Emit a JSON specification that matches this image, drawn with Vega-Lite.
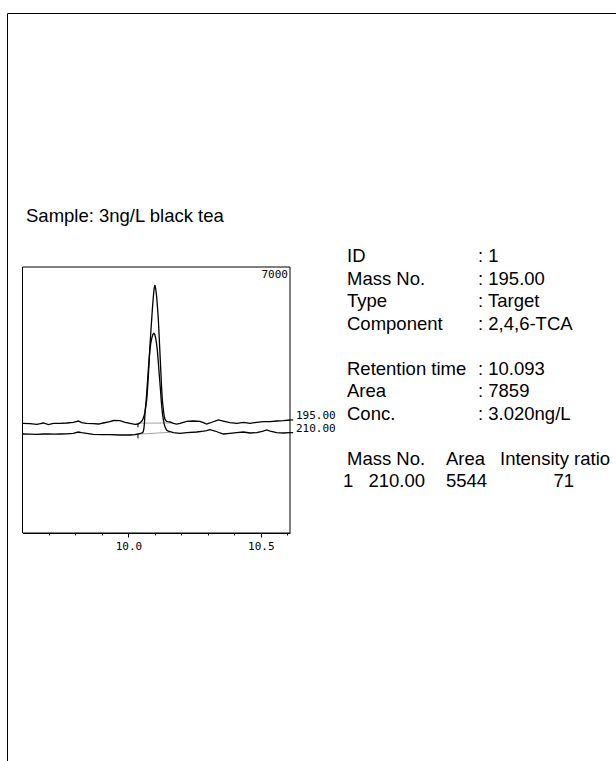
{
  "$schema": "https://vega.github.io/schema/vega-lite/v6.json",
  "width": 640,
  "height": 780,
  "padding": {"left": 7, "top": 13, "right": 0, "bottom": 0},
  "autosize": {"type": "none"},
  "background": "white",
  "config": {"view": {"stroke": "black", "strokeWidth": 1}, "font": "Liberation Sans"},
  "datasets": {
    "trace": [
      {"t":9.600,"v":2886,"mass":"195.00"},{"t":9.628,"v":2877,"mass":"195.00"},{"t":9.654,"v":2859,"mass":"195.00"},{"t":9.668,"v":2880,"mass":"195.00"},{"t":9.679,"v":2895,"mass":"195.00"},{"t":9.698,"v":2851,"mass":"195.00"},{"t":9.716,"v":2886,"mass":"195.00"},{"t":9.742,"v":2886,"mass":"195.00"},{"t":9.767,"v":2895,"mass":"195.00"},{"t":9.792,"v":2912,"mass":"195.00"},{"t":9.811,"v":2947,"mass":"195.00"},{"t":9.823,"v":2903,"mass":"195.00"},{"t":9.842,"v":2886,"mass":"195.00"},{"t":9.867,"v":2877,"mass":"195.00"},{"t":9.886,"v":2868,"mass":"195.00"},{"t":9.905,"v":2895,"mass":"195.00"},{"t":9.930,"v":2930,"mass":"195.00"},{"t":9.943,"v":2960,"mass":"195.00"},{"t":9.968,"v":2955,"mass":"195.00"},{"t":9.987,"v":2912,"mass":"195.00"},{"t":10.006,"v":2886,"mass":"195.00"},{"t":10.025,"v":2859,"mass":"195.00"},{"t":10.037,"v":2868,"mass":"195.00"},{"t":10.046,"v":2912,"mass":"195.00"},{"t":10.052,"v":2960,"mass":"195.00"},{"t":10.056,"v":3020,"mass":"195.00"},{"t":10.060,"v":3110,"mass":"195.00"},{"t":10.0625,"v":3193,"mass":"195.00"},{"t":10.0655,"v":3330,"mass":"195.00"},{"t":10.069,"v":3500,"mass":"195.00"},{"t":10.072,"v":3780,"mass":"195.00"},{"t":10.075,"v":4114,"mass":"195.00"},{"t":10.078,"v":4500,"mass":"195.00"},{"t":10.081,"v":4904,"mass":"195.00"},{"t":10.0845,"v":5290,"mass":"195.00"},{"t":10.088,"v":5649,"mass":"195.00"},{"t":10.091,"v":5950,"mass":"195.00"},{"t":10.094,"v":6219,"mass":"195.00"},{"t":10.097,"v":6430,"mass":"195.00"},{"t":10.100,"v":6526,"mass":"195.00"},{"t":10.103,"v":6420,"mass":"195.00"},{"t":10.1065,"v":6219,"mass":"195.00"},{"t":10.1095,"v":5950,"mass":"195.00"},{"t":10.113,"v":5605,"mass":"195.00"},{"t":10.116,"v":5180,"mass":"195.00"},{"t":10.119,"v":4728,"mass":"195.00"},{"t":10.122,"v":4290,"mass":"195.00"},{"t":10.125,"v":3851,"mass":"195.00"},{"t":10.128,"v":3500,"mass":"195.00"},{"t":10.132,"v":3237,"mass":"195.00"},{"t":10.135,"v":3080,"mass":"195.00"},{"t":10.138,"v":2991,"mass":"195.00"},{"t":10.144,"v":2939,"mass":"195.00"},{"t":10.150,"v":2930,"mass":"195.00"},{"t":10.157,"v":2921,"mass":"195.00"},{"t":10.170,"v":2886,"mass":"195.00"},{"t":10.182,"v":2868,"mass":"195.00"},{"t":10.195,"v":2886,"mass":"195.00"},{"t":10.220,"v":2938,"mass":"195.00"},{"t":10.245,"v":2947,"mass":"195.00"},{"t":10.270,"v":2938,"mass":"195.00"},{"t":10.283,"v":2903,"mass":"195.00"},{"t":10.295,"v":2868,"mass":"195.00"},{"t":10.308,"v":2895,"mass":"195.00"},{"t":10.327,"v":2947,"mass":"195.00"},{"t":10.339,"v":2974,"mass":"195.00"},{"t":10.358,"v":2947,"mass":"195.00"},{"t":10.383,"v":2903,"mass":"195.00"},{"t":10.409,"v":2886,"mass":"195.00"},{"t":10.434,"v":2912,"mass":"195.00"},{"t":10.459,"v":2886,"mass":"195.00"},{"t":10.484,"v":2912,"mass":"195.00"},{"t":10.509,"v":2930,"mass":"195.00"},{"t":10.535,"v":2930,"mass":"195.00"},{"t":10.560,"v":2947,"mass":"195.00"},{"t":10.585,"v":2955,"mass":"195.00"},{"t":10.610,"v":2974,"mass":"195.00"},
      {"t":9.600,"v":2605,"mass":"210.00"},{"t":9.628,"v":2600,"mass":"210.00"},{"t":9.654,"v":2597,"mass":"210.00"},{"t":9.679,"v":2605,"mass":"210.00"},{"t":9.698,"v":2605,"mass":"210.00"},{"t":9.720,"v":2600,"mass":"210.00"},{"t":9.742,"v":2605,"mass":"210.00"},{"t":9.767,"v":2610,"mass":"210.00"},{"t":9.792,"v":2623,"mass":"210.00"},{"t":9.805,"v":2650,"mass":"210.00"},{"t":9.811,"v":2658,"mass":"210.00"},{"t":9.823,"v":2640,"mass":"210.00"},{"t":9.842,"v":2623,"mass":"210.00"},{"t":9.867,"v":2597,"mass":"210.00"},{"t":9.900,"v":2590,"mass":"210.00"},{"t":9.930,"v":2588,"mass":"210.00"},{"t":9.968,"v":2579,"mass":"210.00"},{"t":10.006,"v":2579,"mass":"210.00"},{"t":10.025,"v":2588,"mass":"210.00"},{"t":10.046,"v":2623,"mass":"210.00"},{"t":10.053,"v":2640,"mass":"210.00"},{"t":10.056,"v":2667,"mass":"210.00"},{"t":10.0585,"v":2750,"mass":"210.00"},{"t":10.0605,"v":2900,"mass":"210.00"},{"t":10.0625,"v":3149,"mass":"210.00"},{"t":10.066,"v":3420,"mass":"210.00"},{"t":10.069,"v":3675,"mass":"210.00"},{"t":10.072,"v":3990,"mass":"210.00"},{"t":10.075,"v":4289,"mass":"210.00"},{"t":10.078,"v":4570,"mass":"210.00"},{"t":10.081,"v":4816,"mass":"210.00"},{"t":10.0845,"v":5000,"mass":"210.00"},{"t":10.088,"v":5123,"mass":"210.00"},{"t":10.092,"v":5220,"mass":"210.00"},{"t":10.096,"v":5254,"mass":"210.00"},{"t":10.0995,"v":5220,"mass":"210.00"},{"t":10.103,"v":5123,"mass":"210.00"},{"t":10.106,"v":4990,"mass":"210.00"},{"t":10.109,"v":4816,"mass":"210.00"},{"t":10.112,"v":4570,"mass":"210.00"},{"t":10.115,"v":4289,"mass":"210.00"},{"t":10.1185,"v":3980,"mass":"210.00"},{"t":10.122,"v":3675,"mass":"210.00"},{"t":10.1245,"v":3420,"mass":"210.00"},{"t":10.127,"v":3237,"mass":"210.00"},{"t":10.1295,"v":3080,"mass":"210.00"},{"t":10.132,"v":2974,"mass":"210.00"},{"t":10.135,"v":2870,"mass":"210.00"},{"t":10.138,"v":2798,"mass":"210.00"},{"t":10.144,"v":2711,"mass":"210.00"},{"t":10.150,"v":2680,"mass":"210.00"},{"t":10.157,"v":2667,"mass":"210.00"},{"t":10.170,"v":2640,"mass":"210.00"},{"t":10.195,"v":2623,"mass":"210.00"},{"t":10.220,"v":2640,"mass":"210.00"},{"t":10.258,"v":2658,"mass":"210.00"},{"t":10.283,"v":2680,"mass":"210.00"},{"t":10.295,"v":2693,"mass":"210.00"},{"t":10.308,"v":2719,"mass":"210.00"},{"t":10.327,"v":2684,"mass":"210.00"},{"t":10.346,"v":2632,"mass":"210.00"},{"t":10.358,"v":2605,"mass":"210.00"},{"t":10.383,"v":2623,"mass":"210.00"},{"t":10.409,"v":2640,"mass":"210.00"},{"t":10.434,"v":2658,"mass":"210.00"},{"t":10.459,"v":2632,"mass":"210.00"},{"t":10.484,"v":2640,"mass":"210.00"},{"t":10.509,"v":2684,"mass":"210.00"},{"t":10.522,"v":2711,"mass":"210.00"},{"t":10.535,"v":2684,"mass":"210.00"},{"t":10.560,"v":2640,"mass":"210.00"},{"t":10.585,"v":2632,"mass":"210.00"},{"t":10.610,"v":2640,"mass":"210.00"}
    ],
    "base": [
      {"t":10.036,"v":2890,"mass":"195.00"},{"t":10.170,"v":2895,"mass":"195.00"},
      {"t":10.000,"v":2585,"mass":"210.00"},{"t":10.157,"v":2650,"mass":"210.00"}
    ],
    "starts": [
      {"t":10.036,"v1":2886,"v2":2780,"mass":"195.00"},
      {"t":10.036,"v1":2600,"v2":2490,"mass":"210.00"}
    ],
    "ends": [
      {"mass":"195.00","label":"195.00","v":2974},
      {"mass":"210.00","label":"210.00","v":2640}
    ],
    "info": [
      {"text":"Sample: 3ng/L black tea","col":0,"row":-1},
      {"text":"ID","col":2,"row":0},{"text":": 1","col":5,"row":0},
      {"text":"Mass No.","col":2,"row":1},{"text":": 195.00","col":5,"row":1},
      {"text":"Type","col":2,"row":2},{"text":": Target","col":5,"row":2},
      {"text":"Component","col":2,"row":3},{"text":": 2,4,6-TCA","col":5,"row":3},
      {"text":"Retention time","col":2,"row":5},{"text":": 10.093","col":5,"row":5},
      {"text":"Area","col":2,"row":6},{"text":": 7859","col":5,"row":6},
      {"text":"Conc.","col":2,"row":7},{"text":": 3.020ng/L","col":5,"row":7},
      {"text":"Mass No.","col":2,"row":9},{"text":"Area","col":4,"row":9},{"text":"Intensity ratio","col":6,"row":9},
      {"text":"1","col":1,"row":10},{"text":"210.00","col":3,"row":10},{"text":"5544","col":4,"row":10},{"text":"71","col":7,"row":10}
    ]
  },
  "layer": [
    {
      "layer": [
        {
          "data": {"values": [{}]},
          "mark": {"type": "rect", "fill": null, "stroke": "black", "strokeWidth": 1},
          "encoding": {
            "x": {"datum": 9.6, "type": "quantitative",
              "scale": {"domain": [9.6, 10.61], "range": [15.5, 283], "nice": false, "zero": false},
              "axis": {
                "orient": "bottom", "offset": -260, "title": null, "grid": false,
                "values": [9.7, 9.8, 9.9, 10, 10.1, 10.2, 10.3, 10.4, 10.5, 10.6],
                "labelExpr": "abs(datum.value-10)<0.001 ? '10.0' : (abs(datum.value-10.5)<0.001 ? '10.5' : '')",
                "tickSize": {"condition": {"test": "abs(datum.value-10)<0.001 || abs(datum.value-10.5)<0.001", "value": 4}, "value": 2},
                "labelFont": "DejaVu Sans Mono", "labelFontSize": 11, "labelColor": "black",
                "labelPadding": 3, "labelOverlap": false, "labelFlush": false,
                "tickColor": "black", "domainColor": "black", "tickWidth": 1, "domainWidth": 1
              }},
            "x2": {"datum": 10.61},
            "y": {"datum": 0, "type": "quantitative",
              "scale": {"domain": [0, 7000], "range": [520, 254], "nice": false, "zero": false},
              "axis": null},
            "y2": {"datum": 7000}
          }
        },
        {
          "data": {"name": "base"},
          "mark": {"type": "line", "color": "#8c8c8c", "strokeWidth": 0.8},
          "encoding": {
            "x": {"field": "t", "type": "quantitative"},
            "y": {"field": "v", "type": "quantitative"},
            "detail": {"field": "mass"}
          }
        },
        {
          "data": {"name": "trace"},
          "mark": {"type": "line", "color": "black", "strokeWidth": 1.3},
          "encoding": {
            "x": {"field": "t", "type": "quantitative"},
            "y": {"field": "v", "type": "quantitative"},
            "detail": {"field": "mass"}
          }
        },
        {
          "data": {"name": "starts"},
          "mark": {"type": "rule", "color": "black", "strokeWidth": 1},
          "encoding": {
            "x": {"field": "t", "type": "quantitative"},
            "y": {"field": "v1", "type": "quantitative"},
            "y2": {"field": "v2"}
          }
        },
        {
          "data": {"name": "ends"},
          "mark": {"type": "rule", "color": "black", "strokeWidth": 1.2},
          "encoding": {
            "x": {"datum": 10.61, "type": "quantitative"},
            "x2": {"datum": 10.622},
            "y": {"field": "v", "type": "quantitative"}
          }
        },
        {
          "data": {"name": "ends"},
          "mark": {"type": "text", "align": "left", "baseline": "middle", "dx": 6, "dy": -4, "font": "DejaVu Sans Mono", "fontSize": 11, "color": "black"},
          "encoding": {
            "x": {"datum": 10.61, "type": "quantitative"},
            "y": {"field": "v", "type": "quantitative"},
            "text": {"field": "label"}
          }
        },
        {
          "data": {"values": [{}]},
          "mark": {"type": "text", "align": "right", "baseline": "top", "dx": -2, "dy": 2, "font": "DejaVu Sans Mono", "fontSize": 11, "color": "black"},
          "encoding": {
            "x": {"datum": 10.61, "type": "quantitative"},
            "y": {"datum": 7000, "type": "quantitative"},
            "text": {"datum": 7000}
          }
        }
      ]
    },
    {
      "data": {"name": "info"},
      "encoding": {
        "x": {"field": "col", "type": "quantitative",
          "scale": {"domain": [0, 1, 2, 3, 4, 5, 6, 7], "range": [19, 336, 340, 418, 439, 471, 493, 567], "nice": false, "zero": false},
          "axis": null},
        "y": {"field": "row", "type": "quantitative",
          "scale": {"domain": [-1, 0, 10], "range": [209, 249, 474], "nice": false, "zero": false},
          "axis": null},
        "text": {"field": "text"}
      },
      "layer": [
        {
          "transform": [{"filter": "datum.col != 3 && datum.col != 7"}],
          "mark": {"type": "text", "align": "left", "baseline": "alphabetic", "font": "Liberation Sans", "fontSize": 18.5, "color": "black"}
        },
        {
          "transform": [{"filter": "datum.col == 3 || datum.col == 7"}],
          "mark": {"type": "text", "align": "right", "baseline": "alphabetic", "font": "Liberation Sans", "fontSize": 18.5, "color": "black"}
        }
      ]
    }
  ],
  "resolve": {"scale": {"x": "independent", "y": "independent"}, "axis": {"x": "independent", "y": "independent"}}
}
